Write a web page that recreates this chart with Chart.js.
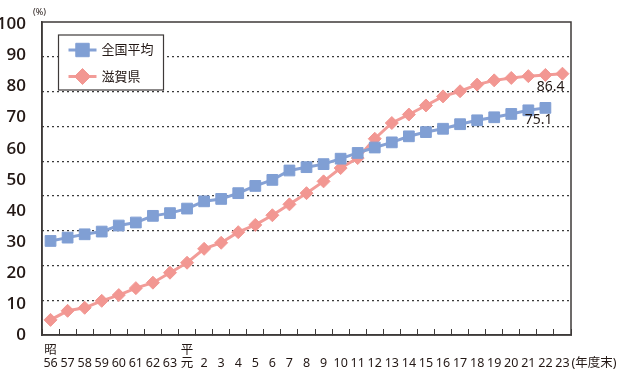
<!DOCTYPE html>
<html lang="ja">
<head>
<meta charset="utf-8">
<script src="https://cdn.jsdelivr.net/npm/chart.js@4/dist/chart.umd.min.js"></script>
<style>
  html, body { margin: 0; padding: 0; background: #fff; }
  #wrap { width: 618px; height: 374px; }
</style>
</head>
<body>
<div id="wrap"><canvas id="fukyu_chart" width="618" height="374"></canvas></div>
<script>
// 年度（昭和56年度〜平成23年度）
const eras = ['昭','','','','','','','','平','','','','','','','','','','','','','','','','','','','','','',''];
const years = ['56','57','58','59','60','61','62','63','元','2','3','4','5','6','7','8','9','10','11','12','13','14','15','16','17','18','19','20','21','22','23'];

// 普及率（%）
const zenkoku = [31.1, 32.2, 33.3, 34.2, 36.2, 37.2, 39.4, 40.3, 41.8, 44.2, 45.0, 46.9, 49.3, 51.3, 54.4, 55.5, 56.5, 58.3, 60.2, 62.0, 63.7, 65.7, 67.1, 68.2, 69.7, 71.0, 72.0, 73.1, 74.3, 75.1, null];
const shiga = [5.0, 8.0, 9.0, 11.3, 13.2, 15.5, 17.3, 20.6, 23.9, 28.5, 30.5, 34.0, 36.4, 39.6, 43.2, 46.9, 50.8, 55.2, 58.5, 64.9, 70.1, 72.9, 75.9, 78.9, 80.6, 82.8, 84.2, 85.0, 85.6, 86.0, 86.4];

const yTicks = [0, 10, 20, 30, 40, 50, 60, 70, 80, 90, 100];

const labels = years.map((y, i) => [eras[i], y]);

const FONT = "'Noto Sans', 'Noto Sans CJK JP', sans-serif";
const INK = '#231815';
const FRAME = '#3e3a39';

// 枠線
const framePlugin = {
    id: 'frame',
    afterDatasetsDraw(chart) {
        const a = chart.chartArea;
        const ctx = chart.ctx;
        ctx.save();
        ctx.strokeStyle = FRAME;
        ctx.lineWidth = 1.5;
        ctx.strokeRect(a.left, a.top, a.right - a.left, a.bottom - a.top);
        ctx.restore();
    }
};

// 凡例（グラフ内左上）
const legendBox = {
    id: 'legendBox',
    afterDraw(chart) {
        const a = chart.chartArea;
        const ctx = chart.ctx;
        const x = a.left + 16.5, y = a.top + 13;
        const marks = [9.5, 8];
        ctx.save();
        ctx.fillStyle = '#fff';
        ctx.fillRect(x, y, 105, 55);
        ctx.strokeStyle = FRAME;
        ctx.lineWidth = 1.2;
        ctx.strokeRect(x, y, 105, 55);
        chart.data.datasets.forEach((ds, i) => {
            const cy = y + 15 + i * 26.5;
            ctx.strokeStyle = ds.borderColor;
            ctx.lineWidth = 3;
            ctx.beginPath();
            ctx.moveTo(x + 10, cy);
            ctx.lineTo(x + 38, cy);
            ctx.stroke();
            ctx.fillStyle = ds.pointBackgroundColor;
            ctx.strokeStyle = ds.pointBackgroundColor;
            ctx.lineWidth = 1;
            Chart.helpers.drawPoint(ctx, { pointStyle: ds.pointStyle, radius: marks[i], borderWidth: 1 }, x + 24, cy);
            ctx.fillStyle = INK;
            ctx.font = '13px ' + FONT;
            ctx.textBaseline = 'middle';
            ctx.textAlign = 'left';
            ctx.fillText(ds.label, x + 43, cy + 0.5);
        });
        ctx.restore();
    }
};

// 最終値、単位
const notes = {
    id: 'notes',
    afterDraw(chart) {
        const ctx = chart.ctx;
        ctx.save();
        ctx.fillStyle = INK;
        ctx.textBaseline = 'middle';
        ctx.textAlign = 'right';
        ctx.font = '14px ' + FONT;
        const offs = [[7, 12.5], [2, 13]];
        chart.data.datasets.forEach((ds, i) => {
            const meta = chart.getDatasetMeta(i);
            let k = ds.data.length - 1;
            while (k > 0 && ds.data[k] == null) k--;
            const pt = meta.data[k];
            ctx.fillText(ds.data[k].toFixed(1), pt.x + offs[i][0], pt.y + offs[i][1]);
        });
        ctx.textAlign = 'left';
        ctx.font = '9px ' + FONT;
        ctx.fillText('(%)', 33, 12);
        ctx.font = '12.5px ' + FONT;
        const xs = chart.scales.x;
        ctx.fillText('(年度末)', xs.getPixelForValue(years.length - 1) + 9, 363);
        ctx.restore();
    }
};

new Chart(document.getElementById('fukyu_chart'), {
    type: 'line',
    data: {
        labels: labels,
        datasets: [{
            label: '全国平均',
            data: zenkoku,
            yAxisID: 'y',
            borderColor: '#85a1d5',
            pointBackgroundColor: '#809fd4',
            pointBorderColor: '#809fd4',
            pointStyle: 'rect',
            pointRadius: 7.6,
            pointBorderWidth: 1,
            borderWidth: 3
        }, {
            label: '滋賀県',
            data: shiga,
            yAxisID: 'y',
            borderColor: '#f29c98',
            pointBackgroundColor: '#f29792',
            pointBorderColor: '#f29792',
            pointStyle: 'rectRot',
            pointRadius: 6.5,
            pointBorderWidth: 1,
            borderWidth: 3
        }]
    },
    options: {
        responsive: false,
        animation: false,
        layout: { padding: { top: 22, right: 47, left: 0, bottom: 0 } },
        plugins: {
            legend: { display: false },
            tooltip: { enabled: false }
        },
        scales: {
            x: {
                offset: true,
                grid: {
                    offset: true,
                    drawOnChartArea: false,
                    tickLength: -6,
                    color: FRAME,
                    lineWidth: 1
                },
                border: { display: true, color: FRAME, width: 1.5 },
                ticks: {
                    autoSkip: false,
                    maxRotation: 0,
                    padding: 15,
                    color: INK,
                    font: { family: FONT, size: 12.5, lineHeight: 1.05 }
                },
                afterFit(s) { s.height = 39; }
            },
            yl: {
                position: 'left',
                min: 0,
                max: 100.8,
                afterBuildTicks(s) { s.ticks = yTicks.map(v => ({ value: v })); },
                grid: { display: false },
                border: { display: true, color: FRAME, width: 1.5 },
                ticks: {
                    padding: 8,
                    color: INK,
                    font: { family: "'Open Sans', 'Noto Sans', sans-serif", size: 17, weight: '600' }
                },
                afterFit(s) { s.width = 42; }
            },
            yg: {
                position: 'left',
                min: 0,
                max: 9,
                ticks: { display: false, stepSize: 1 },
                grid: {
                    drawTicks: false,
                    lineWidth: 1.2,
                    color: c => (c.tick && (c.tick.value === 0 || c.tick.value === 9)) ? 'rgba(0,0,0,0)' : '#3a3a3a'
                },
                border: { display: false, dash: [2, 3] },
                afterFit(s) { s.width = 0; }
            },
            y: {
                display: false,
                min: 0,
                max: 103.5
            }
        }
    },
    plugins: [framePlugin, legendBox, notes]
});
</script>
</body>
</html>
